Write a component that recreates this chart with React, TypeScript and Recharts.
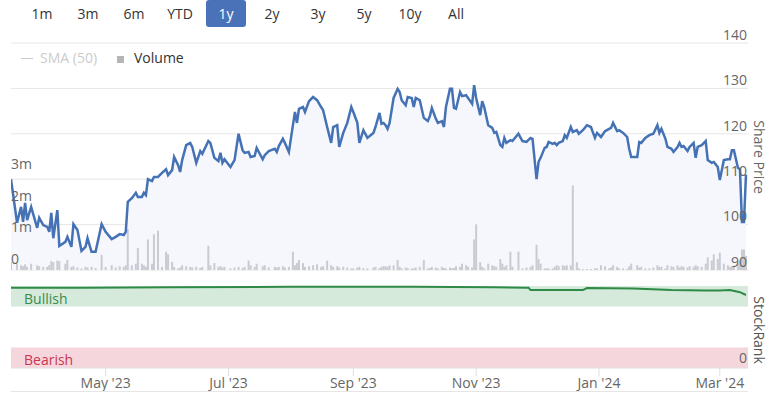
import React from 'react';
import { ComposedChart, LineChart, Line, Area, Bar, XAxis, YAxis, CartesianGrid, ReferenceArea } from 'recharts';

// trading days shown on the 1y view
const dates = [
  '2023-03-15', '2023-03-18', '2023-03-20', '2023-03-21', '2023-03-22', '2023-03-23', '2023-03-25', '2023-03-28', '2023-03-29', '2023-03-31',
  '2023-04-02', '2023-04-03', '2023-04-04', '2023-04-05', '2023-04-07', '2023-04-08', '2023-04-11', '2023-04-12', '2023-04-14', '2023-04-15', '2023-04-17', '2023-04-19', '2023-04-21', '2023-04-22', '2023-04-24', '2023-04-26', '2023-04-29',
  '2023-05-01', '2023-05-04', '2023-05-06', '2023-05-08', '2023-05-10', '2023-05-11', '2023-05-12', '2023-05-14', '2023-05-16', '2023-05-17', '2023-05-19', '2023-05-20', '2023-05-21', '2023-05-22', '2023-05-24', '2023-05-25', '2023-05-27', '2023-05-29', '2023-05-31',
  '2023-06-01', '2023-06-03', '2023-06-04', '2023-06-06', '2023-06-07', '2023-06-08', '2023-06-10', '2023-06-12', '2023-06-13', '2023-06-15', '2023-06-17', '2023-06-18', '2023-06-21', '2023-06-22', '2023-06-24', '2023-06-26', '2023-06-27', '2023-06-28', '2023-06-29',
  '2023-07-02', '2023-07-04', '2023-07-06', '2023-07-08', '2023-07-09', '2023-07-11', '2023-07-12', '2023-07-14', '2023-07-15', '2023-07-18', '2023-07-19', '2023-07-21', '2023-07-24', '2023-07-25', '2023-07-26', '2023-07-28', '2023-07-29', '2023-07-31',
  '2023-08-02', '2023-08-03', '2023-08-04', '2023-08-05', '2023-08-07', '2023-08-08', '2023-08-10', '2023-08-12', '2023-08-14', '2023-08-16', '2023-08-17', '2023-08-19', '2023-08-21', '2023-08-22', '2023-08-24', '2023-08-25', '2023-08-27', '2023-08-29', '2023-08-31',
  '2023-09-01', '2023-09-03', '2023-09-04', '2023-09-06', '2023-09-08', '2023-09-11', '2023-09-12', '2023-09-14', '2023-09-15', '2023-09-16', '2023-09-17', '2023-09-18', '2023-09-19', '2023-09-21', '2023-09-23', '2023-09-24', '2023-09-25', '2023-09-27', '2023-09-28', '2023-09-30',
  '2023-10-01', '2023-10-02', '2023-10-04', '2023-10-06', '2023-10-08', '2023-10-09', '2023-10-10', '2023-10-12', '2023-10-13', '2023-10-15', '2023-10-16', '2023-10-17', '2023-10-19', '2023-10-20', '2023-10-21', '2023-10-22', '2023-10-24', '2023-10-25', '2023-10-27', '2023-10-28', '2023-10-30', '2023-10-31',
  '2023-11-01', '2023-11-03', '2023-11-04', '2023-11-05', '2023-11-07', '2023-11-09', '2023-11-10', '2023-11-11', '2023-11-13', '2023-11-14', '2023-11-15', '2023-11-16', '2023-11-18', '2023-11-19', '2023-11-22', '2023-11-24', '2023-11-26', '2023-11-28', '2023-11-29',
  '2023-12-01', '2023-12-02', '2023-12-03', '2023-12-05', '2023-12-06', '2023-12-07', '2023-12-09', '2023-12-10', '2023-12-11', '2023-12-12', '2023-12-14', '2023-12-15', '2023-12-16', '2023-12-18', '2023-12-19', '2023-12-21', '2023-12-22', '2023-12-24', '2023-12-26', '2023-12-28', '2023-12-30', '2023-12-31',
  '2024-01-02', '2024-01-04', '2024-01-06', '2024-01-07', '2024-01-08', '2024-01-10', '2024-01-11', '2024-01-13', '2024-01-15', '2024-01-16', '2024-01-17', '2024-01-20', '2024-01-21', '2024-01-22', '2024-01-24', '2024-01-26', '2024-01-28', '2024-01-30', '2024-01-31',
  '2024-02-01', '2024-02-03', '2024-02-04', '2024-02-06', '2024-02-07', '2024-02-09', '2024-02-10', '2024-02-11', '2024-02-12', '2024-02-14', '2024-02-15', '2024-02-17', '2024-02-18', '2024-02-19', '2024-02-21', '2024-02-23', '2024-02-24', '2024-02-26', '2024-02-27', '2024-02-29',
  '2024-03-01', '2024-03-03', '2024-03-05', '2024-03-06', '2024-03-07', '2024-03-08', '2024-03-10', '2024-03-11', '2024-03-12', '2024-03-13', '2024-03-14',
];

const prices = [
  110.0, 100.4, 103.9, 100.6, 104.8, 101.0, 103.9, 99.3, 101.5, 99.9,
  99.5, 98.4, 102.6, 97.0, 103.2, 95.3, 96.2, 97.3, 95.1, 100.1, 98.8, 94.2, 95.1, 97.0, 94.0, 94.0, 100.1,
  98.4, 96.8, 97.3, 97.9, 97.7, 98.4, 105.0, 105.8, 107.0, 106.1, 106.1, 107.0, 106.5, 110.0, 109.6, 110.5, 110.5, 111.4, 112.2,
  110.9, 112.0, 114.9, 113.1, 111.6, 114.2, 117.5, 118.0, 117.1, 113.6, 116.2, 115.6, 118.4, 118.0, 114.7, 114.0, 115.8, 113.6, 114.4,
  112.7, 114.2, 120.0, 116.4, 115.8, 116.0, 114.9, 115.1, 116.9, 114.4, 115.3, 116.2, 116.7, 116.0, 117.3, 118.9, 118.0, 116.0,
  121.9, 124.8, 122.4, 125.5, 125.9, 124.8, 127.2, 128.1, 127.4, 125.9, 125.2, 121.5, 118.0, 121.5, 121.9, 117.1, 120.2, 122.4, 125.9,
  124.8, 122.4, 118.0, 120.8, 119.1, 120.2, 121.5, 124.6, 122.2, 122.4, 121.9, 121.1, 122.4, 127.9, 129.9, 129.2, 127.4, 126.3, 128.1, 127.9,
  125.9, 127.9, 127.4, 123.5, 122.8, 123.9, 125.7, 123.3, 122.4, 122.8, 121.5, 125.9, 129.9, 129.9, 125.7, 125.5, 129.2, 128.3, 128.5, 127.9, 126.6, 130.7,
  127.9, 124.1, 127.2, 125.9, 121.9, 121.3, 120.2, 120.4, 117.5, 117.1, 119.1, 118.0, 118.6, 118.4, 120.0, 118.4, 118.2, 119.1, 118.9,
  110.0, 113.8, 114.7, 116.9, 117.1, 118.2, 117.8, 118.0, 117.5, 118.0, 118.4, 119.7, 119.1, 121.5, 120.4, 120.8, 120.0, 120.8, 121.9, 121.5, 119.1, 120.2,
  119.3, 120.6, 121.1, 121.3, 122.4, 120.6, 120.8, 120.2, 119.3, 116.7, 114.9, 114.9, 118.2, 118.0, 119.1, 119.7, 120.0, 121.9, 120.2,
  121.1, 118.9, 117.1, 116.7, 116.0, 117.1, 118.0, 117.1, 117.3, 116.2, 117.1, 118.0, 114.7, 117.1, 117.5, 118.4, 114.2, 113.6, 113.8, 112.7,
  109.8, 114.2, 114.4, 114.4, 116.4, 116.4, 112.5, 112.2, 100.6, 100.6, 111.0,
];

// volume in millions of shares
const volumes = [
  0.25, 0.2, 0.15, 0.12, 0.18, 0.1, 0.2, 0.15, 0.12, 0.1,
  0.1, 0.15, 0.28, 0.25, 0.3, 0.28, 0.2, 0.32, 0.1, 0.12, 0.08, 0.05, 0.1, 0.08, 0.1, 0.06, 0.48,
  0.1, 0.15, 0.08, 0.12, 0.1, 0.15, 1.3, 0.15, 0.2, 0.7, 0.2, 0.15, 0.1, 0.97, 0.2, 1.13, 1.25, 0.1, 0.58,
  0.5, 0.26, 0.1, 0.05, 0.08, 0.15, 0.12, 0.1, 0.08, 0.1, 0.06, 0.1, 0.77, 0.15, 0.22, 0.1, 0.12, 0.08, 0.1,
  0.05, 0.08, 0.1, 0.06, 0.1, 0.3, 0.15, 0.1, 0.2, 0.12, 0.15, 0.08, 0.1, 0.08, 0.1, 0.12, 0.08, 0.1,
  0.58, 0.15, 0.22, 0.32, 0.22, 0.1, 0.12, 0.15, 0.18, 0.1, 0.12, 0.3, 0.15, 0.1, 0.12, 0.08, 0.1, 0.08, 0.05,
  0.05, 0.08, 0.1, 0.06, 0.05, 0.08, 0.1, 0.06, 0.1, 0.12, 0.12, 0.1, 0.15, 0.15, 0.32, 0.1, 0.05, 0.08, 0.06, 0.05,
  0.05, 0.08, 0.1, 0.32, 0.05, 0.06, 0.1, 0.08, 0.05, 0.1, 0.06, 0.05, 0.08, 0.05, 0.06, 0.12, 0.1, 0.2, 0.15, 0.1, 0.08, 0.97,
  1.45, 0.25, 0.1, 0.05, 0.2, 0.15, 0.12, 0.1, 0.35, 0.2, 0.1, 0.15, 0.58, 0.1, 0.58, 0.05, 0.08, 0.1, 0.15,
  0.8, 0.35, 0.2, 0.05, 0.05, 0.05, 0.05, 0.1, 0.15, 0.12, 0.15, 0.12, 0.15, 0.15, 2.68, 0.25, 0.05, 0.03, 0.03, 0.03, 0.05, 0.05,
  0.15, 0.12, 0.05, 0.08, 0.15, 0.1, 0.05, 0.05, 0.03, 0.12, 0.2, 0.15, 0.08, 0.1, 0.05, 0.05, 0.08, 0.15, 0.1,
  0.1, 0.05, 0.15, 0.12, 0.1, 0.15, 0.08, 0.12, 0.1, 0.08, 0.12, 0.1, 0.15, 0.12, 0.1, 0.2, 0.4, 0.3, 0.5, 0.35,
  0.55, 0.2, 0.15, 0.1, 0.12, 0.1, 0.2, 0.3, 0.65, 0.65, 0.45,
];

const rankDates = [
  '2023-03-15', '2023-04-20', '2023-06-01', '2023-08-01', '2023-10-01', '2023-11-10', '2023-11-27', '2023-11-28',
  '2023-12-24', '2023-12-26', '2024-01-18', '2024-02-06', '2024-02-23', '2024-03-01', '2024-03-06', '2024-03-11', '2024-03-14',
];
const ranks = [98, 98, 98.5, 99, 99, 98.5, 98, 95, 95, 97.5, 97, 95, 94.5, 94.5, 95, 92.5, 89];

const priceTicks = [90, 100, 110, 120, 130, 140];
const volumeTicks = [0, 1, 2, 3];
const monthTicks = ['2023-05-01', '2023-07-01', '2023-09-01', '2023-11-01', '2024-01-01', '2024-03-01'];
const monthTickLabels = ["May '23", "Jul '23", "Sep '23", "Nov '23", "Jan '24", "Mar '24"];
const rangeButtons = ['1m', '3m', '6m', 'YTD', '1y', '2y', '3y', '5y', '10y', 'All'];
const selectedRange = '1y';

const ts = (s: string) => Date.parse(s + 'T00:00:00Z');

const W = 769;
const PLOT_LEFT = 11;
const PLOT_RIGHT = 748;
const DOMAIN: [number, number] = [ts('2023-03-15'), ts('2024-03-15')];
const tickTimes = monthTicks.map(ts);

const priceData = dates.map((d, i) => ({ t: ts(d), price: prices[i], vol: volumes[i] }));
const rankData = rankDates.map((d, i) => ({ t: ts(d), rank: ranks[i] }));

// axes get 1px width (a 0-width axis is not drawn at all), labels sit inside the plot
const PriceTick = (props: any) => (
  <text x={PLOT_RIGHT - 1} y={props.y - 7} textAnchor="end" dominantBaseline="middle" fill="#666" fontSize={14}>
    {props.payload.value}
  </text>
);

const VolumeTick = (props: any) => (
  <text x={PLOT_LEFT} y={props.y - 10} textAnchor="start" dominantBaseline="middle" fill="#666" fontSize={14}>
    {props.payload.value === 0 ? '0' : `${props.payload.value}m`}
  </text>
);

const RankTick = (props: any) => (
  <text x={PLOT_RIGHT - 1} y={props.y - 9} textAnchor="end" dominantBaseline="middle" fill="#666" fontSize={14}>
    {props.payload.value}
  </text>
);

const App = () => {
  return (
    <div
      style={{
        position: 'absolute',
        left: 0,
        top: 0,
        width: W,
        height: 393,
        background: '#fff',
        fontFamily: "'Open Sans', sans-serif",
        overflow: 'hidden',
      }}
    >
      {/* range selector */}
      <div style={{ position: 'absolute', left: 22, top: 0, display: 'flex' }}>
        {rangeButtons.map((b) => (
          <div
            key={b}
            style={{
              width: 40,
              height: 27,
              marginRight: 6,
              lineHeight: '27px',
              textAlign: 'center',
              fontSize: 14,
              borderRadius: 3,
              color: b === selectedRange ? '#fff' : '#333',
              background: b === selectedRange ? '#4a72b8' : 'transparent',
            }}
          >
            {b}
          </div>
        ))}
      </div>

      {/* legend */}
      <div style={{ position: 'absolute', left: 21, top: 57.5, width: 12, height: 1, background: '#ccc' }} />
      <div style={{ position: 'absolute', left: 40, top: 48, fontSize: 14, color: '#ccc', lineHeight: '20px' }}>SMA (50)</div>
      <div style={{ position: 'absolute', left: 117, top: 56, width: 7, height: 7, background: '#b5b5b8' }} />
      <div style={{ position: 'absolute', left: 134, top: 48, fontSize: 14, color: '#333', lineHeight: '20px' }}>Volume</div>

      <div style={{ position: 'absolute', left: 0, top: 0 }}>
        <ComposedChart width={W} height={280} data={priceData} margin={{ top: 43, right: W - PLOT_RIGHT - 1, bottom: 10, left: PLOT_LEFT - 1 }}>
          <XAxis dataKey="t" type="number" domain={DOMAIN} hide allowDataOverflow />
          <YAxis
            yAxisId="price"
            orientation="right"
            domain={[90, 140]}
            ticks={priceTicks}
            width={1}
            axisLine={false}
            tickLine={false}
            tick={PriceTick}
          />
          <YAxis
            yAxisId="vol"
            orientation="left"
            domain={[0, 7.2]}
            ticks={volumeTicks}
            width={1}
            axisLine={false}
            tickLine={false}
            tick={VolumeTick}
          />
          <CartesianGrid yAxisId="price" vertical={false} stroke="#e6e6e6" />
          <Area yAxisId="price" dataKey="price" type="linear" stroke="none" fill="#f5f7fc" fillOpacity={1} isAnimationActive={false} />
          <Bar yAxisId="vol" dataKey="vol" barSize={2} fill="#c9cbd1" isAnimationActive={false} />
          <Line yAxisId="price" dataKey="price" type="linear" stroke="#4572b5" strokeWidth={2.5} dot={false} isAnimationActive={false} />
        </ComposedChart>
      </div>

      <div style={{ position: 'absolute', left: 0, top: 280 }}>
        <LineChart width={W} height={113} data={rankData} margin={{ top: 6, right: W - PLOT_RIGHT - 1, bottom: 0, left: PLOT_LEFT }}>
          <XAxis
            dataKey="t"
            type="number"
            domain={DOMAIN}
            ticks={tickTimes}
            tickFormatter={(v: number) => monthTickLabels[tickTimes.indexOf(v)] ?? ''}
            height={25}
            stroke="#e0e0e0"
            tickSize={8}
            tick={{ fill: '#666', fontSize: 14 }}
            allowDataOverflow
          />
          <YAxis orientation="right" domain={[0, 100]} ticks={[0]} width={1} axisLine={false} tickLine={false} tick={RankTick} />
          <ReferenceArea
            y1={75}
            y2={100}
            fill="#d5eadb"
            fillOpacity={1}
            stroke="none"
            label={{ value: 'Bullish', position: 'insideLeft', offset: 13, fill: '#3a8a4c', fontSize: 14, dy: 3 }}
          />
          <ReferenceArea
            y1={0}
            y2={25}
            fill="#f6d6dd"
            fillOpacity={1}
            stroke="none"
            label={{ value: 'Bearish', position: 'insideLeft', offset: 13, fill: '#c8364f', fontSize: 14, dy: 2 }}
          />
          <Line dataKey="rank" type="linear" stroke="#2e8a46" strokeWidth={2} dot={false} isAnimationActive={false} />
        </LineChart>
      </div>

      <div style={{ position: 'absolute', left: PLOT_LEFT, top: 391, width: PLOT_RIGHT - PLOT_LEFT, height: 1, background: '#e6e6e6' }} />

      <div
        style={{
          position: 'absolute',
          left: 759,
          top: 157,
          transform: 'translate(-50%, -50%) rotate(90deg)',
          whiteSpace: 'nowrap',
          fontSize: 14,
          lineHeight: '14px',
          color: '#666',
        }}
      >
        Share Price
      </div>
      <div
        style={{
          position: 'absolute',
          left: 759,
          top: 330,
          transform: 'translate(-50%, -50%) rotate(90deg)',
          whiteSpace: 'nowrap',
          fontSize: 14,
          lineHeight: '14px',
          color: '#555',
        }}
      >
        StockRank
      </div>
    </div>
  );
};

export default App;
